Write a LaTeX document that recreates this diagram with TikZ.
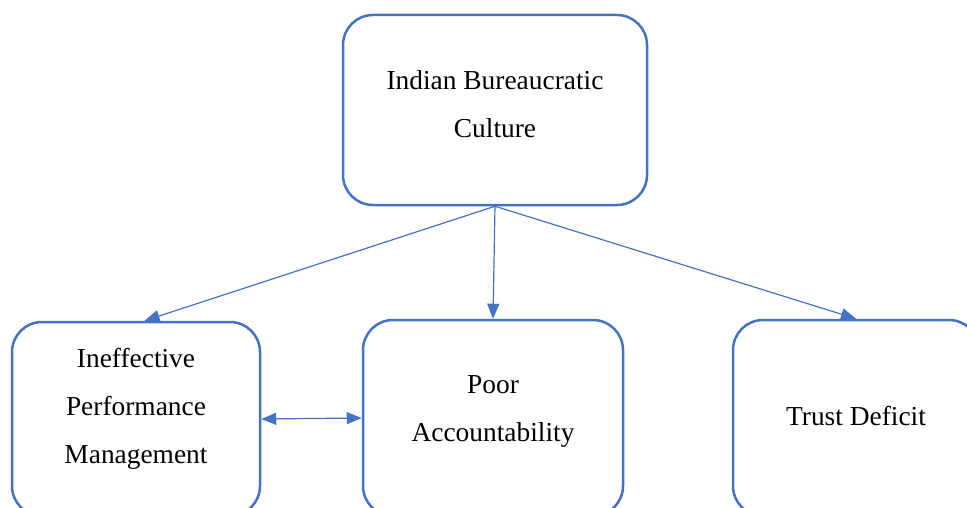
\documentclass[tikz,border=0pt]{standalone}
\usepackage{fontspec}
\setmainfont{Liberation Serif}
\usetikzlibrary{arrows.meta}
\definecolor{boxblue}{HTML}{4472C4}
\begin{document}
\begin{tikzpicture}[x=1pt,y=-1pt,
  main node/.style={draw=boxblue,line width=2.5pt,rounded corners=30pt,align=center,
    inner sep=0pt,font=\fontsize{27.4}{48}\selectfont},
  link/.style={color=boxblue,line width=1.2pt,-{Triangle[length=15pt,width=12pt]}},
  both/.style={link,{Triangle[length=15pt,width=12pt]}-{Triangle[length=15pt,width=12pt]}}]

  \clip (0,0) rectangle (967,508);

  \node[main node,minimum width=304pt,minimum height=190pt,text depth=12pt] (culture) at (495,110) {Indian Bureaucratic\\Culture};
  \node[main node,minimum width=248pt,minimum height=194pt,text depth=26pt] (perf) at (136,419) {Ineffective\\Performance\\Management};
  \node[main node,minimum width=260pt,minimum height=196pt,text depth=18pt] (poor) at (493,418) {Poor\\Accountability};
  \node[main node,minimum width=246pt,minimum height=196pt,text depth=4pt] (trust) at (856,418) {Trust Deficit};

  \path (culture.south) edge[link] (perf.85)
   (culture.south) edge[link] (poor.north)
   (culture.south) edge[link] (trust.north)
   (perf.east) edge[both] (poor.west);
\end{tikzpicture}
\end{document}
